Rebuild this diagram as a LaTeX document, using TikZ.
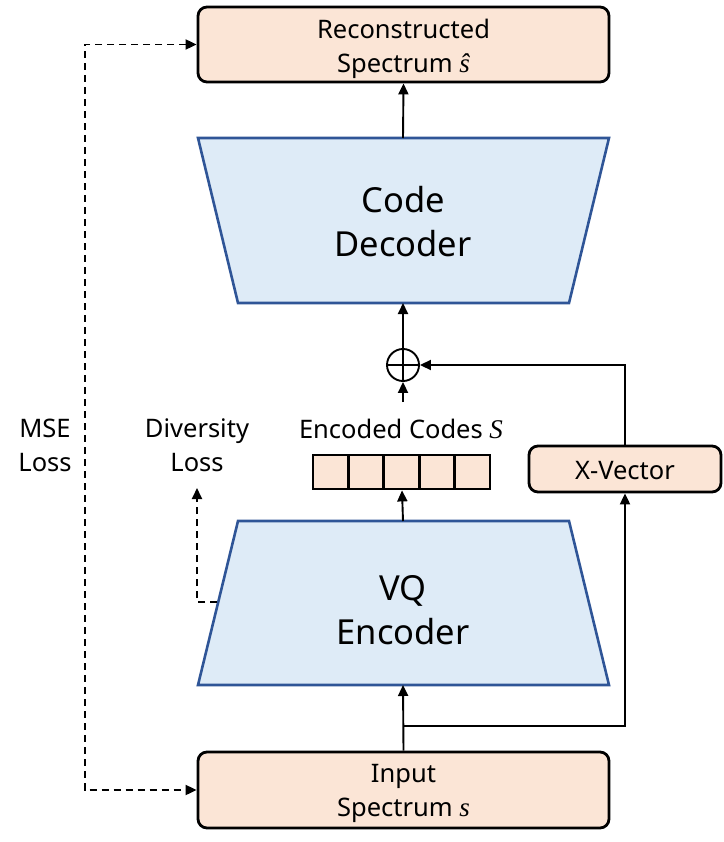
\documentclass[tikz,border=0pt]{standalone}
\usepackage{fontspec}
\setmainfont{Noto Sans}
\newfontfamily\mathserif{Liberation Serif}
\newcommand{\mv}[1]{{\mathserif\itshape\fontsize{27}{34}\selectfont #1}}
\usetikzlibrary{arrows.meta,calc}
\definecolor{peach}{RGB}{251,229,214}
\definecolor{bluef}{RGB}{222,235,247}
\definecolor{blueb}{RGB}{47,85,151}
\begin{document}
\begin{tikzpicture}[x=1pt,y=-1pt,
  rbox/.style={draw=black, line width=2.8pt, fill=peach, rounded corners=9pt, inner sep=0pt},
  cell/.style={draw=black, line width=2.8pt, fill=peach, minimum width=35.4pt, minimum height=34pt, inner sep=0pt},
  trap/.style={draw=blueb, line width=2.6pt, fill=bluef, line join=miter},
  bigtxt/.style={align=center, font=\fontsize{34.5}{44}\selectfont},
  smalltxt/.style={align=center, font=\fontsize{25.5}{34}\selectfont},
  arr/.style={line width=1.9pt, -{Triangle[length=11pt,width=10pt]}},
  dashline/.style={line width=1.9pt, dash pattern=on 7pt off 5pt},
  plain/.style={line width=1.9pt}
]
\useasboundingbox (0,0) rectangle (723,842);

% boxes
\node[rbox, minimum width=411pt, minimum height=75pt] (recon) at (403.5,44.5) {};
\node[smalltxt] (recontxt) at ($(recon.center)+(0,4)$) {Reconstructed\\Spectrum \mv{\^{s}}};
\node[rbox, minimum width=411pt, minimum height=76pt] (inp) at (403.5,790) {};
\node[smalltxt] (inptxt) at ($(inp.center)+(0,3)$) {Input\\Spectrum \mv{s}};
\node[rbox, minimum width=192pt, minimum height=46pt] (xv) at (625,469) {};
\node[smalltxt] (xvtxt) at ($(xv.center)+(0,2)$) {X-Vector};

% decoder
\draw[trap] (198,138) -- (609,138) -- (569,303) -- (238,303) -- cycle;
\coordinate (dectop) at (403,138);
\coordinate (decbot) at (403,303);
\node[bigtxt] (dectxt) at (403,222) {Code\\Decoder};

% encoder
\draw[trap] (238,521) -- (569,521) -- (609,685) -- (198,685) -- cycle;
\coordinate (enctop) at (403,521);
\coordinate (encbot) at (403,685);
\coordinate (divstart) at (217,602);
\node[bigtxt] (enctxt) at (403,610) {VQ\\Encoder};

% codes
\foreach \i in {1,...,5} \node[cell] (c\i) at ({313+35.4*(\i-0.5)},472) {};
\coordinate (codesbot) at ($(c3.south)+(0.5,0)$);
\node[smalltxt] (codestxt) at (401,429) {Encoded Codes \mv{S}};

% plus
\node[circle, draw, line width=1.9pt, minimum size=32pt, inner sep=0pt] (plus) at (403,365) {};
\draw[plain] (plus.north) -- (plus.south);
\draw[plain] (plus.west) -- (plus.east);
\coordinate (plusin) at (403,402);

% labels
\node[smalltxt] (mse) at (45,445) {MSE\\Loss};
\node[smalltxt] (div) at (197,445) {Diversity\\Loss};
\coordinate (divtip) at (197,488);
\coordinate (divcorner) at (197,602);
\coordinate (branch) at (403,726);

% connectors
\draw[arr] (dectop) -- (recon.south);
\draw[arr] (plus.north) -- (decbot);
\draw[arr] (plusin) -- (plus.south);
\draw[arr] (xv.north) |- (plus.east);
\draw[arr] (enctop) -- (codesbot);
\draw[arr] (inp.north) -- (encbot);
\draw[arr] (branch) -| (xv.south);
\draw[dashline, {Triangle[length=11pt,width=10pt]}-{Triangle[length=11pt,width=10pt]}] (recon.west) -- ++(-112,0) |- (inp.west);
\draw[dashline, -{Triangle[length=11pt,width=10pt]}] (divstart) -- (divcorner) -- (divtip);
\end{tikzpicture}
\end{document}
